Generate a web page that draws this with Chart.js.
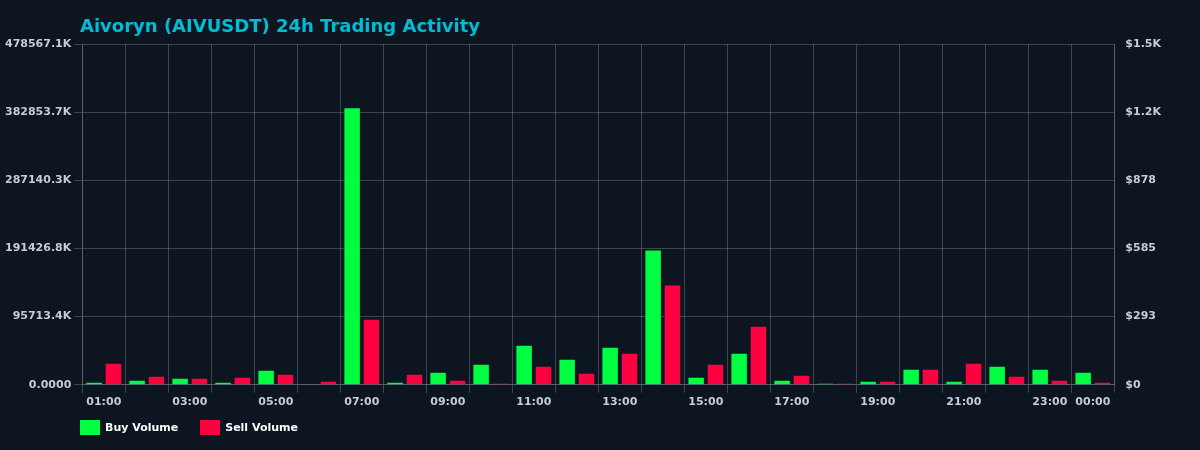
<!DOCTYPE html>
<html><head><meta charset="utf-8">
<script src="https://cdn.jsdelivr.net/npm/chart.js@4/dist/chart.umd.min.js"></script>
<style>html,body{margin:0;background:#0c1520;font-family:'DejaVu Sans',sans-serif;}
#w{position:relative;width:1200px;height:450px;}
#t{position:absolute;left:80px;top:15px;color:#00bcd4;font-size:18px;font-weight:bold;}
#lg{position:absolute;left:80px;top:420px;color:#fff;font-size:11px;font-weight:bold;display:flex;gap:22px;}
#lg span{display:flex;align-items:center;gap:5px;}
#lg i{display:inline-block;width:20px;height:15px;}
</style>
</head><body><div id="w"><canvas id="c"></canvas>
<div id="t">Aivoryn (AIVUSDT) 24h Trading Activity</div>
<div id="lg"><span><i style="background:#00ff41"></i>Buy Volume</span><span><i style="background:#ff0040"></i>Sell Volume</span></div>
</div>
<script>
const hours = ['01:00','02:00','03:00','04:00','05:00','06:00','07:00','08:00','09:00','10:00','11:00','12:00','13:00','14:00','15:00','16:00','17:00','18:00','19:00','20:00','21:00','22:00','23:00','00:00'];
const buyVolume = [2800,5600,8400,2800,19700,700,388500,2800,16900,28100,54900,35200,52100,188600,9900,43600,5600,1400,4200,21100,4200,25300,21100,16900];
const sellVolume = [29600,11300,8400,9900,14100,4200,91500,14100,5600,1400,25300,15500,43600,139300,28100,81600,12700,1400,4200,21100,29600,11300,5600,2800];
const leftMax = 478567.1;
const rightMax = 1463;
const shownLabels = ['01:00','03:00','05:00','07:00','09:00','11:00','13:00','15:00','17:00','19:00','21:00','23:00','00:00'];
const txt = '#c8ccd2', grid = 'rgba(120,130,140,0.45)';
const F = "'DejaVu Sans', sans-serif";
new Chart(document.getElementById('c'), {
  type: 'bar',
  data: { labels: hours, datasets: [
    { label: 'Buy Volume', data: buyVolume, backgroundColor: '#00ff41', yAxisID: 'y', categoryPercentage: 0.9, barPercentage: 0.8 },
    { label: 'Sell Volume', data: sellVolume, backgroundColor: '#ff0040', yAxisID: 'y', categoryPercentage: 0.9, barPercentage: 0.8 }
  ]},
  options: {
    responsive: true, maintainAspectRatio: false, animation: false,
    layout: { padding: { left: 2, right: 36, top: 44, bottom: 38 } },
    plugins: { legend: { display: false }, tooltip: { enabled: false } },
    scales: {
      x: { grid: { color: grid, offset: true }, border: { color: grid },
        ticks: { color: txt, font: { family: F, size: 11, weight: 'bold' }, autoSkip: false, maxRotation: 0,
          callback: function(v){ const l = this.getLabelForValue(v); return shownLabels.includes(l) ? l : ''; } } },
      y: { position: 'left', min: 0, max: leftMax, grid: { color: grid }, border: { color: grid },
        afterBuildTicks: a => { a.ticks = [0,1,2,3,4,5].map(i => ({ value: leftMax * i / 5 })); },
        ticks: { color: txt, font: { family: F, size: 11, weight: 'bold' },
          callback: v => v === 0 ? '0.0000' : v.toFixed(1) + 'K' } },
      y1: { position: 'right', min: 0, max: rightMax, grid: { display: false }, border: { color: grid },
        afterBuildTicks: a => { a.ticks = [0,1,2,3,4,5].map(i => ({ value: rightMax * i / 5 })); },
        ticks: { color: txt, font: { family: F, size: 11, weight: 'bold' },
          callback: v => v < 1000 ? '$' + Math.round(v) : '$' + (v / 1000).toFixed(1) + 'K' } }
    }
  }
});
</script></body></html>
